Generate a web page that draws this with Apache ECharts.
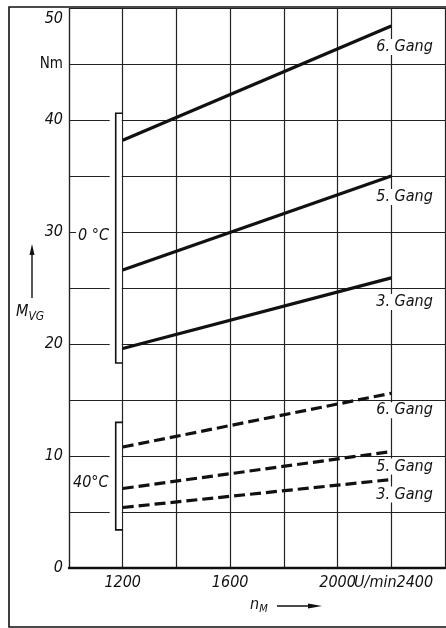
<!DOCTYPE html>
<html>
  <head>
    <meta charset="utf-8">
    <title>M_VG</title>
    <script src="https://cdn.jsdelivr.net/npm/echarts@6/dist/echarts.min.js"></script>
    <style>
      html, body { margin: 0; padding: 0; background: #fff; }
    </style>
  </head>
  <body>
    <div id="main" style="width: 446px;height:628px;"></div>
    <script type="text/javascript">
      // Drehzahl n_M (U/min) an Anfang und Ende der Kurven
      var nM = [1200, 2200];

      // 0 °C, durchgezogen
      var warm6 = [38.2, 48.4];
      var warm5 = [26.6, 35.0];
      var warm3 = [19.6, 25.9];
      // 40 °C (Minus), gestrichelt
      var cold6 = [10.8, 15.6];
      var cold5 = [7.1, 10.4];
      var cold3 = [5.4, 7.9];

      var gearNames = ['6. Gang', '5. Gang', '3. Gang'];
      var xTickLabels = [1200, 1600, 2000];
      var yTickLabels = [0, 10, 20, 30, 40, 50];

      // Klammern fuer die Temperaturgruppen (oben, unten in Nm)
      var brackets = [[40.6, 18.3], [13.0, 3.4]];

      var FONT = "'DejaVu Sans Condensed', 'DejaVu Sans', sans-serif";
      var INK = '#111';

      var myChart = echarts.init(document.getElementById('main'));

      function pts(ys) {
        return nM.map(function (x, i) { return [x, ys[i]]; });
      }

      function curve(name, ys, dashed, offY) {
        return {
          name: name,
          type: 'line',
          data: pts(ys),
          showSymbol: false,
          symbol: 'none',
          silent: true,
          lineStyle: { color: INK, width: 3.2, type: dashed ? [11, 5] : 'solid', cap: 'butt' },
          endLabel: {
            show: true,
            formatter: name,
            distance: 0,
            offset: [-17, offY],
            color: INK,
            fontFamily: FONT,
            fontStyle: 'italic',
            fontSize: 16,
            backgroundColor: '#fff',
            padding: [0, 2]
          },
          z: 3
        };
      }

      var option = {
        animation: false,
        backgroundColor: '#fff',
        grid: { left: 69, right: 1, top: 8, bottom: 60 },
        xAxis: {
          type: 'value',
          min: 1000,
          max: 2400,
          interval: 200,
          axisLine: { show: true, onZero: false, lineStyle: { color: INK, width: 2.4 } },
          axisTick: { show: false },
          splitLine: { show: true, lineStyle: { color: '#222', width: 1.2 } },
          axisLabel: {
            margin: 7,
            color: INK,
            fontFamily: FONT,
            fontStyle: 'italic',
            fontSize: 16,
            showMaxLabel: false,
            formatter: function (v) {
              return xTickLabels.indexOf(v) >= 0 ? String(v) : '';
            }
          }
        },
        yAxis: {
          type: 'value',
          min: 0,
          max: 50,
          interval: 5,
          axisLine: { show: true, lineStyle: { color: '#222', width: 1.2 } },
          axisTick: { show: false },
          splitLine: { show: true, lineStyle: { color: '#222', width: 1.2 } },
          axisLabel: {
            margin: 6,
            color: INK,
            fontFamily: FONT,
            fontStyle: 'italic',
            fontSize: 16,
            formatter: function (v) {
              if (v === 50) return '{top|50}';
              if (v === 45) return '{unit|Nm}';
              return yTickLabels.indexOf(v) >= 0 ? String(v) : '';
            },
            rich: {
              top: { fontFamily: FONT, fontStyle: 'italic', fontSize: 16, color: INK, padding: [22, 0, 0, 0] },
              unit: { fontFamily: FONT, fontStyle: 'normal', fontSize: 15, color: INK }
            }
          }
        },
        graphic: [
          // Rahmen
          {
            type: 'polyline', silent: true,
            shape: { points: [[447, 7], [9, 7], [9, 627], [447, 627]] },
            style: { stroke: INK, lineWidth: 1.6, fill: null }
          },
          // M_VG mit Pfeil
          {
            type: 'line', silent: true,
            shape: { x1: 32, y1: 298, x2: 32, y2: 252 },
            style: { stroke: INK, lineWidth: 1.4 }
          },
          {
            type: 'polygon', silent: true,
            shape: { points: [[32, 244], [29.5, 255], [34.5, 255]] },
            style: { fill: INK }
          },
          {
            type: 'text', silent: true, left: 16, top: 304,
            style: {
              text: '{m|M}{s|VG}',
              rich: {
                m: { fontFamily: FONT, fontStyle: 'italic', fontSize: 16, fill: INK },
                s: { fontFamily: FONT, fontStyle: 'italic', fontSize: 12, fill: INK, padding: [10, 0, 0, 0] }
              }
            }
          },
          // n_M mit Pfeil
          {
            type: 'text', silent: true, left: 250, top: 597,
            style: {
              text: '{n|n}{s|M}',
              rich: {
                n: { fontFamily: FONT, fontStyle: 'italic', fontSize: 16, fill: INK },
                s: { fontFamily: FONT, fontStyle: 'italic', fontSize: 11, fill: INK, padding: [9, 0, 0, 0] }
              }
            }
          },
          {
            type: 'line', silent: true,
            shape: { x1: 277, y1: 606, x2: 312, y2: 606 },
            style: { stroke: INK, lineWidth: 1.4 }
          },
          {
            type: 'polygon', silent: true,
            shape: { points: [[322, 606], [308, 603.5], [308, 608.5]] },
            style: { fill: INK }
          },
          // Einheit und letzter Teilstrich der x-Achse
          {
            type: 'text', silent: true, left: 354, top: 575,
            style: { text: 'U/min2400', fontFamily: FONT, fontStyle: 'italic', fontSize: 16, fill: INK }
          },
          // Temperaturen
          {
            type: 'text', silent: true, left: 76, top: 228, z: 10,
            style: {
              text: '0 °C', fontFamily: FONT, fontStyle: 'italic', fontSize: 16, fill: INK,
              backgroundColor: '#fff', padding: [0, 2]
            }
          },
          {
            type: 'text', silent: true, left: 73, top: 475, z: 10,
            style: { text: '40°C', fontFamily: FONT, fontStyle: 'italic', fontSize: 16, fill: INK }
          }
        ],
        series: [
          {
            type: 'custom',
            silent: true,
            data: brackets,
            renderItem: function (params, api) {
              var t = api.coord([1200, api.value(0)]);
              var b = api.coord([1200, api.value(1)]);
              var r = t[0];
              var l = r - 7;
              return {
                type: 'group',
                children: [
                  {
                    type: 'rect',
                    shape: { x: r - 13, y: t[1] - 1, width: 12, height: b[1] - t[1] + 2 },
                    style: { fill: '#fff' }
                  },
                  {
                    type: 'polyline',
                    shape: { points: [[r, t[1]], [l, t[1]], [l, b[1]], [r, b[1]]] },
                    style: { stroke: INK, lineWidth: 1.6, fill: null }
                  }
                ]
              };
            },
            z: 2
          },
          curve(gearNames[0], warm6, false, 21),
          curve(gearNames[1], warm5, false, 21),
          curve(gearNames[2], warm3, false, 24),
          curve(gearNames[0], cold6, true, 17),
          curve(gearNames[1], cold5, true, 15),
          curve(gearNames[2], cold3, true, 15)
        ]
      };

      myChart.setOption(option);
    </script>
  </body>
</html>
